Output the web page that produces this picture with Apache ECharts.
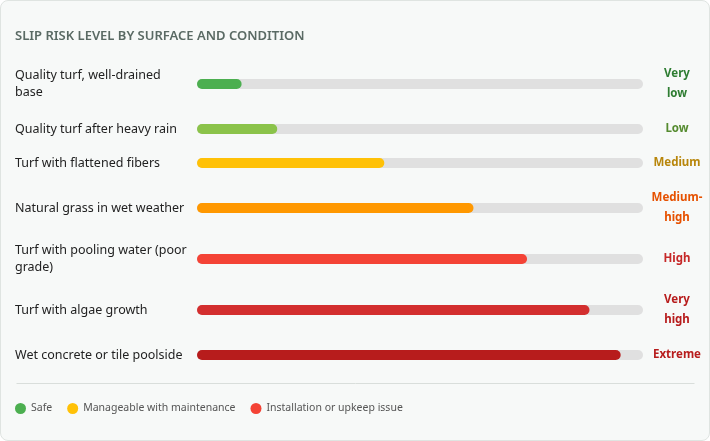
<!DOCTYPE html>
<html>
<head>
<meta charset="utf-8">
<script src="https://cdn.jsdelivr.net/npm/echarts@6/dist/echarts.min.js"></script>
<style>
	html, body { margin: 0; padding: 0; background: #ffffff; }
	#main {
		width: 708px; height: 439px;
		border: 1px solid #dfe4e1; border-radius: 8px;
		background: #f7f9f8;
	}
</style>
</head>
<body>
<div id="main"></div>
<script>
// rows of the chart, top to bottom
var surfaces = [ 'Quality turf, well-drained base', 'Quality turf after heavy rain',
		'Turf with flattened fibers', 'Natural grass in wet weather',
		'Turf with pooling water (poor grade)', 'Turf with algae growth',
		'Wet concrete or tile poolside' ];
var riskScores = [ 10, 18, 42, 62, 74, 88, 95 ];
var riskLevels = [ 'Very low', 'Low', 'Medium', 'Medium-high', 'High', 'Very high', 'Extreme' ];
var legendNames = [ 'Safe', 'Manageable with maintenance', 'Installation or upkeep issue' ];

// styles
var barColors = [ '#4caf50', '#8bc34a', '#ffc107', '#ff9800', '#f44336', '#d32f2f', '#b71c1c' ];
var levelColors = [ '#2e7d32', '#558b2f', '#b8860b', '#e65100', '#c62828', '#b71c1c', '#b71c1c' ];
var legendColors = [ '#4caf50', '#ffc107', '#f44336' ];
var rowHeights = [ 42, 20, 20, 42, 32, 42, 20 ]; // layout only
var rowGap = 14;
var firstTop = 62;
var FONT = 'Noto Sans';
var LABEL_SIZE = 12.5, LABEL_WIDTH = 174;

// word wrap for the left labels (echarts' own break leaves a leading space)
var ctx = document.createElement('canvas').getContext('2d');
ctx.font = LABEL_SIZE + 'px "' + FONT + '"';
function wrap(text) {
	var words = text.split(' '), lines = [], cur = '';
	for ( var w = 0; w < words.length; w++) {
		var test = cur ? cur + ' ' + words[w] : words[w];
		if (cur && ctx.measureText(test).width > LABEL_WIDTH) {
			lines.push(cur);
			cur = words[w];
		} else {
			cur = test;
		}
	}
	lines.push(cur);
	return lines.join('\n');
}

var myChart = echarts.init(document.getElementById('main'));

var grids = [], xAxes = [], yAxes = [], series = [];
var rowTop = firstTop;
for ( var i = 0; i < surfaces.length; i++) {
	var center = rowTop + rowHeights[i] / 2;
	grids.push({ left: 196, right: 66, top: center - 5, height: 10 });
	xAxes.push({ type: 'value', gridIndex: i, min: 0, max: 100, show: false });
	// left: surface name
	yAxes.push({
		type: 'category', gridIndex: i, data: [ surfaces[i] ],
		axisLine: { show: false }, axisTick: { show: false }, splitLine: { show: false },
		axisLabel: {
			margin: 182, align: 'left', formatter: wrap,
			color: '#222222', fontFamily: FONT, fontSize: LABEL_SIZE, lineHeight: 17
		}
	});
	// right: risk level text
	(function(idx) {
		yAxes.push({
			type: 'category', gridIndex: idx, position: 'right', data: [ riskLevels[idx] ],
			axisLine: { show: false }, axisTick: { show: false }, splitLine: { show: false },
			axisLabel: {
				margin: 34, align: 'center',
				color: levelColors[idx], fontFamily: FONT, fontSize: 11.5, fontWeight: 'bold', lineHeight: 20,
				formatter: function(v) {
					return v.replace('-', '-\n').replace(' ', '\n');
				}
			}
		});
	})(i);
	// track
	series.push({
		type: 'bar', xAxisIndex: i, yAxisIndex: i * 2, data: [ 100 ],
		barWidth: 10, silent: true, animation: false,
		itemStyle: { color: '#e0e0e0', borderRadius: 5 }
	});
	// value
	series.push({
		type: 'bar', xAxisIndex: i, yAxisIndex: i * 2, data: [ riskScores[i] ],
		barWidth: 10, barGap: '-100%', animation: false,
		itemStyle: { color: barColors[i], borderRadius: 5 }
	});
	rowTop += rowHeights[i] + rowGap;
}

// dummy series only for the legend
for ( var k = 0; k < legendNames.length; k++) {
	series.push({
		type: 'scatter', name: legendNames[k], xAxisIndex: 0, yAxisIndex: 0,
		data: [], itemStyle: { color: legendColors[k], opacity: 1 }
	});
}

var option = {
	backgroundColor: 'transparent',
	title: {
		text: 'SLIP RISK LEVEL BY SURFACE AND CONDITION',
		left: 9, top: 24,
		textStyle: { color: '#5a6a64', fontFamily: FONT, fontSize: 13, fontWeight: 600 }
	},
	legend: {
		left: 9, top: 397,
		icon: 'circle', itemWidth: 11, itemHeight: 11, itemGap: 15,
		data: legendNames,
		textStyle: { color: '#555555', fontFamily: FONT, fontSize: 10.5 }
	},
	graphic: [ {
		type: 'line', left: 13, top: 380,
		shape: { x1: 0, y1: 0, x2: 678, y2: 0 },
		style: { stroke: '#d9dedb', lineWidth: 1 }
	} ],
	grid: grids,
	xAxis: xAxes,
	yAxis: yAxes,
	series: series
};
myChart.setOption(option);
</script>
</body>
</html>
